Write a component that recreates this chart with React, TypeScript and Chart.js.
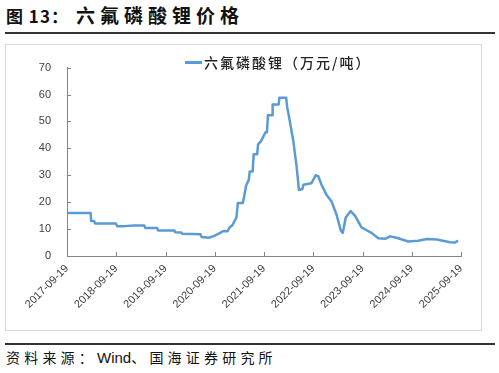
import React, { useEffect, useRef } from "react";
import { Chart, registerables } from "chart.js";

Chart.register(...registerables);

// x: years elapsed since 2017-09-19
const yearsSinceStart = [
  0, 0.48, 0.49, 0.55, 0.57, 0.99, 1.02, 1.16, 1.36, 1.57, 1.59, 1.83, 1.85, 2.18, 2.2, 2.32, 2.34,
  2.71, 2.73, 2.89, 2.99, 3.1, 3.16, 3.26, 3.3, 3.36, 3.44, 3.47, 3.57, 3.6, 3.64, 3.69, 3.71, 3.77,
  3.79, 3.86, 3.88, 3.94, 4.03, 4.06, 4.08, 4.17, 4.175, 4.3, 4.31, 4.45, 4.47, 4.52, 4.59, 4.66,
  4.71, 4.78, 4.8, 4.96, 5.05, 5.1, 5.17, 5.27, 5.37, 5.47, 5.56, 5.6, 5.66, 5.76, 5.85, 5.98, 6.12,
  6.19, 6.32, 6.46, 6.56, 6.69, 6.93, 7.13, 7.31, 7.51, 7.78, 7.88, 7.94,
];
const pricesWanYuanPerTon = [
  16, 16, 13, 13, 12.1, 12.1, 11.1, 11.1, 11.3, 11.3, 10.4, 10.4, 9.5, 9.5, 8.8, 8.7, 8.3,
  8.1, 7.1, 6.8, 7.5, 8.5, 9.2, 9.2, 10.6, 11.5, 14.3, 19.7, 19.7, 22.5, 26.4, 28.2, 31.4, 31.4,
  37.8, 37.8, 41.5, 42.7, 46, 46, 52.3, 52.3, 56.3, 56.3, 58.8, 58.8, 55.4, 50.5, 43.3, 33.6,
  24.5, 24.9, 26.5, 27, 30, 29.7, 26.4, 22.7, 20.3, 15.5, 9.4, 8.6, 14.3, 16.7, 14.9, 10.6, 9.2,
  8.5, 6.6, 6.4, 7.3, 6.8, 5.4, 5.7, 6.3, 6.1, 5.1, 5.0, 5.7,
];
const startYear = 2017;
const tickSuffix = "-09-19";
const seriesName = "六氟磷酸锂（万元/吨）";
const titlePrefix = "图 13：";
const titleMain = "六氟磷酸锂价格";
const sourceLabel = "资料来源：";
const sourceLatin = "Wind";
const sourceRest = "、国海证券研究所";

const LINE_COLOR = "#5B9BD5";
const AXIS_COLOR = "#868686";
const TEXT_COLOR = "#404040";
const FONT = '"Liberation Sans", Arial, sans-serif';
const CJK = '"Noto Sans CJK SC", sans-serif';

const insideTicks = {
  id: "insideTicks",
  afterDraw(chart: any) {
    const { ctx } = chart;
    const xs = chart.scales.x;
    const ys = chart.scales.y;
    ctx.save();
    ctx.strokeStyle = AXIS_COLOR;
    ctx.lineWidth = 1;
    ctx.beginPath();
    ys.ticks.forEach((t: any) => {
      const y = Math.round(ys.getPixelForValue(t.value)) + 0.5;
      ctx.moveTo(ys.right, y);
      ctx.lineTo(ys.right + 4, y);
    });
    xs.ticks.forEach((t: any) => {
      const x = Math.round(xs.getPixelForValue(t.value)) + 0.5;
      ctx.moveTo(x, xs.top);
      ctx.lineTo(x, xs.top - 4);
    });
    ctx.stroke();
    ctx.restore();
  },
};

export default function App() {
  const canvasRef = useRef<HTMLCanvasElement | null>(null);

  useEffect(() => {
    if (!canvasRef.current) return;
    const chart = new Chart(canvasRef.current, {
      type: "line",
      data: {
        datasets: [
          {
            label: seriesName,
            data: yearsSinceStart.map((x, i) => ({ x, y: pricesWanYuanPerTon[i] })),
            borderColor: LINE_COLOR,
            backgroundColor: LINE_COLOR,
            borderWidth: 2.5,
            pointRadius: 0,
            tension: 0,
            borderJoinStyle: "round",
          },
        ],
      },
      options: {
        animation: false,
        responsive: false,
        maintainAspectRatio: false,
        layout: { padding: { left: 0, right: 20, top: 18, bottom: 0 } },
        plugins: { legend: { display: false }, tooltip: { enabled: false } },
        scales: {
          x: {
            type: "linear",
            min: 0,
            max: 8,
            afterFit: (s: any) => {
              s.height = 74;
            },
            grid: { display: false, drawTicks: false },
            border: { display: true, color: AXIS_COLOR, width: 1 },
            ticks: {
              stepSize: 1,
              autoSkip: false,
              maxRotation: 45,
              minRotation: 45,
              padding: 6,
              color: TEXT_COLOR,
              font: { family: FONT, size: 11 },
              callback: (v: any) => `${startYear + Number(v)}${tickSuffix}`,
            },
          },
          y: {
            min: 0,
            max: 70,
            afterFit: (s: any) => {
              s.width = 61;
            },
            grid: { display: false, drawTicks: false },
            border: { display: true, color: AXIS_COLOR, width: 1 },
            ticks: {
              stepSize: 10,
              padding: 16,
              color: TEXT_COLOR,
              font: { family: FONT, size: 11 },
            },
          },
        },
      },
      plugins: [insideTicks],
    });
    return () => chart.destroy();
  }, []);

  return (
    <div style={{ position: "absolute", left: 0, top: 0, width: 499, height: 373, background: "#fff" }}>
      <div
        style={{
          position: "absolute",
          left: 6,
          top: 4,
          fontFamily: CJK,
          fontWeight: 700,
          fontSize: 17,
          color: "#111",
          whiteSpace: "nowrap",
          lineHeight: "24px",
        }}
      >
        <span style={{ letterSpacing: 1 }}>{titlePrefix}</span>
        <span style={{ position: "absolute", left: 70, top: -1, fontSize: 19, letterSpacing: 5 }}>{titleMain}</span>
      </div>
      <div style={{ position: "absolute", left: 5, top: 32, width: 490, height: 1.5, background: "#333" }} />
      <div
        style={{
          position: "absolute",
          left: 5,
          top: 44,
          width: 477,
          height: 287,
          border: "1px solid #d9d9d9",
          boxSizing: "border-box",
        }}
      >
        <canvas ref={canvasRef} width={475} height={285} style={{ position: "absolute", left: 0, top: 0 }} />
      </div>
      <div
        style={{
          position: "absolute",
          left: 185,
          top: 52,
          display: "flex",
          alignItems: "center",
          whiteSpace: "nowrap",
        }}
      >
        <span style={{ display: "inline-block", width: 17, height: 3, background: LINE_COLOR, marginRight: 2 }} />
        <span
          style={{
            fontFamily: CJK,
            fontSize: 14,
            fontWeight: 500,
            letterSpacing: 2,
            color: "#222",
            lineHeight: "20px",
          }}
        >
          {seriesName}
        </span>
      </div>
      <div style={{ position: "absolute", left: 5, top: 343, width: 490, height: 1.5, background: "#333" }} />
      <div
        style={{
          position: "absolute",
          left: 6,
          top: 347,
          fontFamily: CJK,
          fontSize: 14,
          color: "#111",
          whiteSpace: "nowrap",
          lineHeight: "20px",
        }}
      >
        <span style={{ letterSpacing: 4.2 }}>{sourceLabel}</span>
        <span style={{ fontFamily: FONT, fontSize: 15 }}>{sourceLatin}</span>
        <span style={{ letterSpacing: 4.2 }}>{sourceRest}</span>
      </div>
    </div>
  );
}
